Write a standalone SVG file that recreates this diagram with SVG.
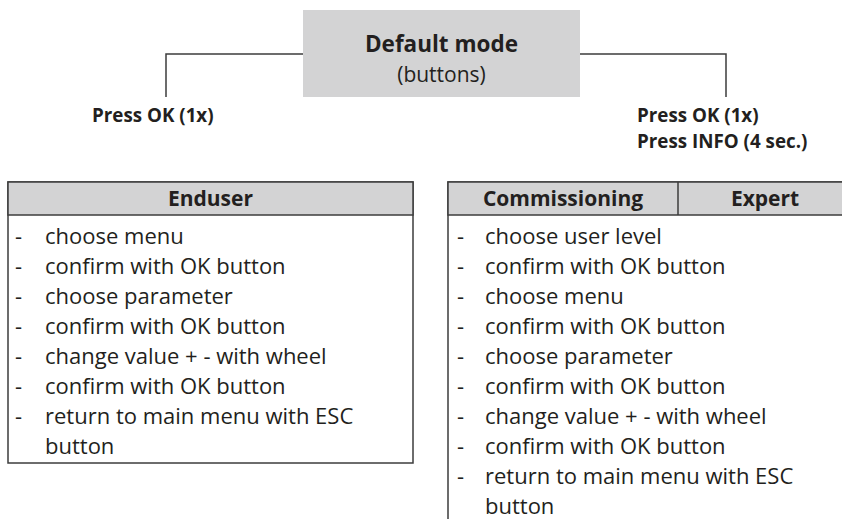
<svg xmlns="http://www.w3.org/2000/svg" width="842" height="519" viewBox="0 0 842 519">
<style>
text{font-family:"Open Sans","Noto Sans",sans-serif;fill:#231f20}
.b{font-weight:bold}
.hd{font-size:21px;font-weight:bold;text-anchor:middle}
.li{font-size:22px}
.pr{font-size:18.8px;font-weight:bold}
.ln{fill:none;stroke:#3c3c3c;stroke-width:1.5}
.hf{fill:#d3d3d4;stroke:#3c3c3c;stroke-width:1.5}
</style>
<rect width="842" height="519" fill="#fff"/>
<g id="connectors">
<polyline class="ln" points="303,54 166,54 166,97"/>
<polyline class="ln" points="580,54 726,54 726,97"/>
</g>
<g id="default-mode">
<rect x="303" y="10" width="277" height="87" fill="#d3d3d4"/>
<text x="441.5" y="52" class="b" font-size="22.5" text-anchor="middle">Default mode</text>
<text x="441.5" y="82" font-size="21" text-anchor="middle">(buttons)</text>
</g>
<g id="label-left">
<text x="92" y="122" class="pr">Press OK (1x)</text>
</g>
<g id="label-right">
<text x="637" y="122" class="pr">Press OK (1x)</text>
<text x="637" y="148" class="pr">Press INFO (4 sec.)</text>
</g>
<g id="enduser">
<rect x="8" y="182" width="405" height="281" fill="#fff" stroke="#3c3c3c" stroke-width="1.5"/>
<rect class="hf" x="8" y="182" width="405" height="33"/>
<text x="210.5" y="206" class="hd">Enduser</text>
<g class="li">
<text x="15" y="244">-</text><text x="45" y="244">choose menu</text>
<text x="15" y="274">-</text><text x="45" y="274">confirm with OK button</text>
<text x="15" y="304">-</text><text x="45" y="304">choose parameter</text>
<text x="15" y="334">-</text><text x="45" y="334">confirm with OK button</text>
<text x="15" y="364">-</text><text x="45" y="364">change value + - with wheel</text>
<text x="15" y="394">-</text><text x="45" y="394">confirm with OK button</text>
<text x="15" y="424">-</text><text x="45" y="424">return to main menu with ESC</text>
<text x="45" y="454">button</text>
</g>
</g>
<g id="commissioning-expert">
<polyline class="ln" points="448,530 448,182 850,182"/>
<rect class="hf" x="448" y="182" width="402" height="33"/>
<line class="ln" x1="678" y1="182" x2="678" y2="215"/>
<text x="563" y="206" class="hd">Commissioning</text>
<text x="765" y="206" class="hd">Expert</text>
<g class="li">
<text x="457" y="244">-</text><text x="485" y="244">choose user level</text>
<text x="457" y="274">-</text><text x="485" y="274">confirm with OK button</text>
<text x="457" y="304">-</text><text x="485" y="304">choose menu</text>
<text x="457" y="334">-</text><text x="485" y="334">confirm with OK button</text>
<text x="457" y="364">-</text><text x="485" y="364">choose parameter</text>
<text x="457" y="394">-</text><text x="485" y="394">confirm with OK button</text>
<text x="457" y="424">-</text><text x="485" y="424">change value + - with wheel</text>
<text x="457" y="454">-</text><text x="485" y="454">confirm with OK button</text>
<text x="457" y="484">-</text><text x="485" y="484">return to main menu with ESC</text>
<text x="485" y="514">button</text>
</g>
</g>
</svg>
